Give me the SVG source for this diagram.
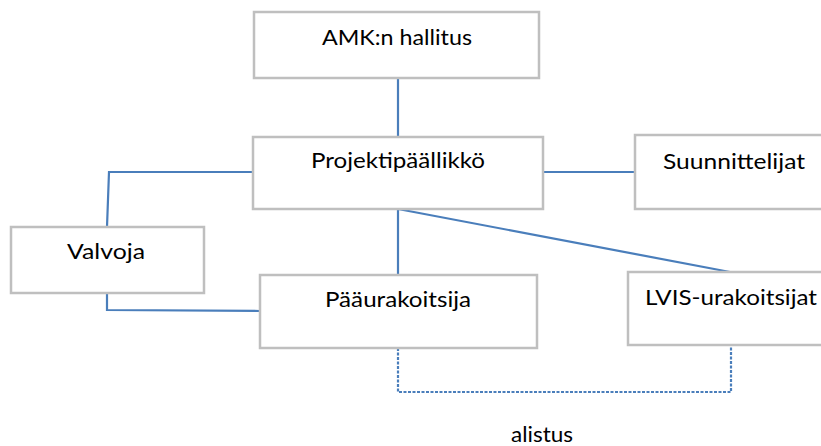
<svg xmlns="http://www.w3.org/2000/svg" width="821" height="446" viewBox="0 0 821 446">
<style>
.box{fill:#fff;stroke:#bfbfbf;stroke-width:2.5}
.lbl{font-family:Lato,"Liberation Sans",Arial,sans-serif;font-size:22px;fill:#000}
.ln{fill:none;stroke:#4a7ebb;stroke-width:2.2}
.dash{fill:none;stroke:#4a7ebb;stroke-width:2.2;stroke-dasharray:3 1.5}
</style>
<rect width="821" height="446" fill="#fff"/>
<g id="connectors">
<line class="ln" x1="398" y1="78" x2="398" y2="137"/>
<polyline class="ln" points="253,172 109,172 107,227"/>
<polyline class="ln" points="107,293 107,310 260,311"/>
<line class="ln" x1="543" y1="172" x2="635" y2="172"/>
<line class="ln" x1="398" y1="209" x2="398" y2="275"/>
<line class="ln" x1="398" y1="209" x2="730" y2="272"/>
<polyline class="dash" points="398,348 398,392 731,392 731,345"/>
</g>
<g id="amk">
<rect class="box" x="254" y="12" width="285" height="66"/>
<text class="lbl" x="322" y="45" textLength="150" lengthAdjust="spacingAndGlyphs">AMK:n hallitus</text>
</g>
<g id="projektipaallikko">
<rect class="box" x="253" y="137" width="290" height="72"/>
<text class="lbl" x="311" y="168" textLength="174" lengthAdjust="spacingAndGlyphs">Projektipäällikkö</text>
</g>
<g id="suunnittelijat">
<rect class="box" x="635" y="135" width="200" height="74"/>
<text class="lbl" x="663" y="169" textLength="142" lengthAdjust="spacingAndGlyphs">Suunnittelijat</text>
</g>
<g id="valvoja">
<rect class="box" x="11" y="227" width="193" height="66"/>
<text class="lbl" x="67" y="259" textLength="78" lengthAdjust="spacingAndGlyphs">Valvoja</text>
</g>
<g id="paaurakoitsija">
<rect class="box" x="260" y="275" width="277" height="73"/>
<text class="lbl" x="325" y="307" textLength="146" lengthAdjust="spacingAndGlyphs">Pääurakoitsija</text>
</g>
<g id="lvis">
<rect class="box" x="628" y="272" width="210" height="73"/>
<text class="lbl" x="645" y="305" textLength="172" lengthAdjust="spacingAndGlyphs">LVIS-urakoitsijat</text>
</g>
<g id="alistus">
<text class="lbl" x="511" y="442" textLength="62" lengthAdjust="spacingAndGlyphs">alistus</text>
</g>
</svg>
